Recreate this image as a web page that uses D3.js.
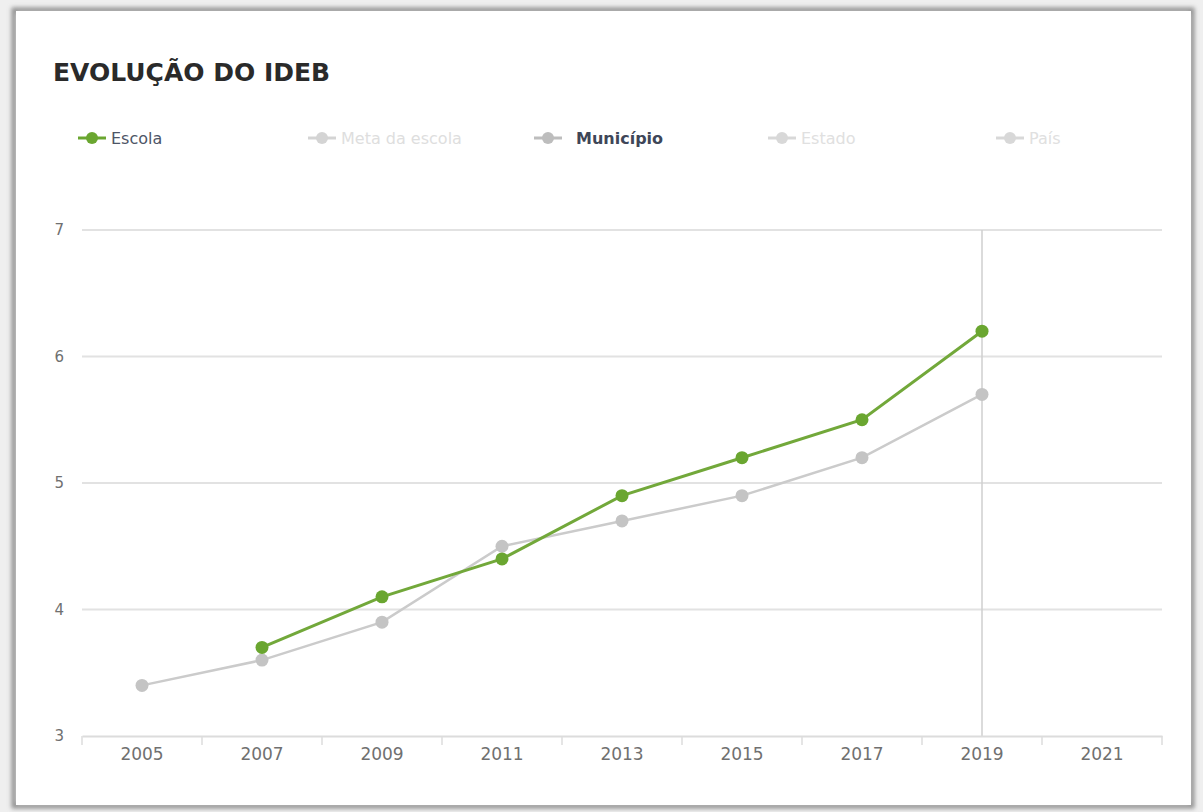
<!DOCTYPE html>
<html><head><meta charset="utf-8">
<script src="https://cdn.jsdelivr.net/npm/d3@7"></script>
<style>
html,body{margin:0;padding:0;background:#efefef;}
svg{display:block;}
</style></head>
<body>
<svg id="c" width="1203" height="812"></svg>
<script>
const years = ["2005","2007","2009","2011","2013","2015","2017","2019","2021"];
const escola = [null,3.7,4.1,4.4,4.9,5.2,5.5,6.2,null];
const municipio = [3.4,3.6,3.9,4.5,4.7,4.9,5.2,5.7,null];
const yTicks = [3,4,5,6,7];
const legendNames = ["Escola","Meta da escola","Município","Estado","País"];
const legendActive = [true,false,true,false,false];
const title = "EVOLUÇÃO DO IDEB";

const svg = d3.select("#c");
const defs = svg.append("defs");
const f = defs.append("filter").attr("id","blur").attr("x","-5%").attr("y","-5%").attr("width","110%").attr("height","110%");
f.append("feGaussianBlur").attr("stdDeviation",2);

// card frame
svg.append("rect").attr("x",14).attr("y",10).attr("width",1178).attr("height",796)
  .attr("fill","none").attr("stroke","#909090").attr("stroke-width",5).attr("filter","url(#blur)");
svg.append("rect").attr("x",16).attr("y",11).attr("width",1175).attr("height",794)
  .attr("fill","#fff");

const FONT = "'DejaVu Sans', sans-serif";

svg.append("text").attr("x",53).attr("y",81).text(title)
  .attr("font-family",FONT).attr("font-weight","bold").attr("font-size",25).attr("fill","#2a2a2a");

const x = d3.scaleBand().domain(years).range([82,1162]);
const y = d3.scaleLinear().domain([3,7]).range([736,230]);

// gridlines
svg.append("g").selectAll("line").data(yTicks.filter(d=>d>3)).join("line")
  .attr("x1",82).attr("x2",1162).attr("y1",d=>y(d)).attr("y2",d=>y(d))
  .attr("stroke","#e2e2e2").attr("stroke-width",2);

// crosshair at 2019
svg.append("line").attr("x1",x("2019")+x.bandwidth()/2).attr("x2",x("2019")+x.bandwidth()/2)
  .attr("y1",y(7)).attr("y2",y(3)).attr("stroke","#cfcfcf").attr("stroke-width",1.5);

// x axis
const xAxis = d3.axisBottom(x).tickSize(0).tickPadding(12);
const gx = svg.append("g").attr("transform",`translate(0,${y(3)})`).call(xAxis);
gx.select(".domain").attr("stroke","#dcdcdc").attr("stroke-width",2);
gx.selectAll("text").attr("font-family",FONT).attr("font-size",17).attr("fill","#707070");
// band boundary ticks
const bounds = years.map(d=>x(d)).concat([x.range()[1]]);
gx.selectAll(".bt").data(bounds).join("line").attr("class","bt")
  .attr("x1",d=>d).attr("x2",d=>d).attr("y1",0).attr("y2",9).attr("stroke","#dcdcdc").attr("stroke-width",1.5);

// y axis labels
const yAxis = d3.axisLeft(y).tickValues(yTicks).tickSize(0).tickPadding(0).tickFormat(d3.format("d"));
const gy = svg.append("g").attr("transform","translate(64,0)").call(yAxis);
gy.select(".domain").remove();
gy.selectAll("text").attr("font-family",FONT).attr("font-size",15).attr("fill","#707070");

const cx = d => x(d)+x.bandwidth()/2;
const line = d3.line().defined(d=>d[1]!=null).x(d=>cx(d[0])).y(d=>y(d[1]));

function drawSeries(vals,color,dot,w,r){
  const pts = years.map((yr,i)=>[yr,vals[i]]);
  svg.append("path").datum(pts).attr("d",line).attr("fill","none").attr("stroke",color).attr("stroke-width",w);
  svg.append("g").selectAll("circle").data(pts.filter(d=>d[1]!=null)).join("circle")
    .attr("cx",d=>cx(d[0])).attr("cy",d=>y(d[1])).attr("r",r).attr("fill",dot);
}
drawSeries(municipio,"#cbcbcb","#c4c4c4",2.5,6.5);
drawSeries(escola,"#72a83a","#6aa630",3,6.5);

// legend
const legX = [92,322,548,782,1010];
const legColors = ["#6aa630","#d4d4d4","#bdbdbd","#d8d8d8","#d8d8d8"];
const legText = ["#4d5566","#dedede","#3e4658","#e0e0e0","#e0e0e0"];
const lg = svg.append("g").selectAll("g").data(legendNames).join("g")
  .attr("transform",(d,i)=>`translate(${legX[i]},138)`);
lg.append("line").attr("x1",-14).attr("x2",14).attr("stroke",(d,i)=>legColors[i]).attr("stroke-width",3);
lg.append("circle").attr("r",6).attr("fill",(d,i)=>legColors[i]);
lg.append("text").attr("x",(d,i)=>i===2?28:19).attr("y",6).text(d=>d)
  .attr("font-family",FONT).attr("font-size",16)
  .attr("font-weight",(d,i)=>i===2?"bold":"normal")
  .attr("fill",(d,i)=>legText[i]);
</script>
</body></html>
